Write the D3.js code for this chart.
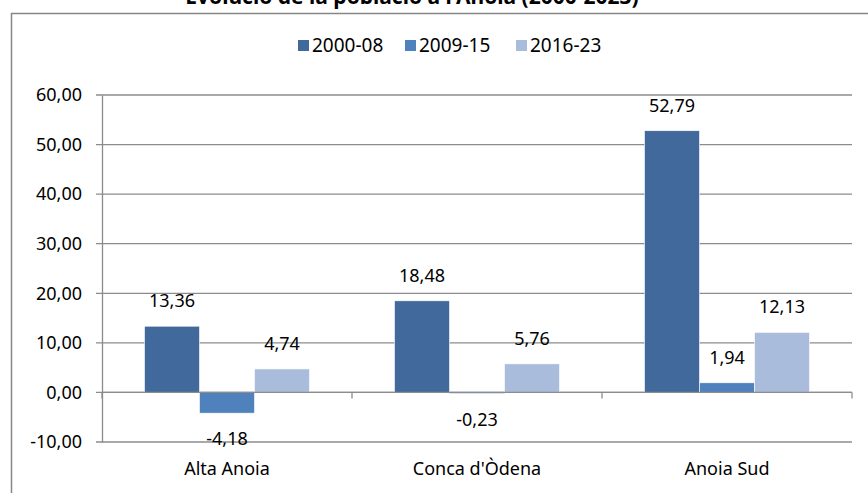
<!DOCTYPE html>
<html>
<head>
<meta charset="utf-8">
<script src="https://cdn.jsdelivr.net/npm/d3@7"></script>
<style>
  body { margin: 0; background: #fff; }
  svg { display: block; font-family: 'Noto Sans', sans-serif; }
</style>
</head>
<body>
<div id="chart"></div>
<script>
const categories = ['Alta Anoia', "Conca d'Òdena", 'Anoia Sud'];
const seriesNames = ['2000-08', '2009-15', '2016-23'];
const values2000_08 = [13.36, 18.48, 52.79];
const values2009_15 = [-4.18, -0.23, 1.94];
const values2016_23 = [4.74, 5.76, 12.13];
const yTicks = [-10, 0, 10, 20, 30, 40, 50, 60];
const colors = ['#41699b', '#4f81bd', '#aabcdb'];
const title = "Evolució de la població a l'Anoia (2000-2023)";

const seriesValues = [values2000_08, values2009_15, values2016_23];
const width = 868, height = 493;
const plot = { left: 102, right: 852, top: 95, bottom: 442 };

// comma decimals, plain hyphen for negatives
const fmt = v => d3.format('.2f')(v).replace('.', ',').replace('\u2212', '-');

const svg = d3.select('#chart').append('svg')
    .attr('width', width)
    .attr('height', height);

// chart frame (runs off the page to the right and bottom)
svg.append('rect')
    .attr('x', 11.5).attr('y', 13.5)
    .attr('width', 1000).attr('height', 600)
    .attr('fill', 'none')
    .attr('stroke', '#868686')
    .attr('stroke-width', 1.5);

// title, mostly cut off at the top as in the source image
svg.append('text')
    .attr('x', 412).attr('y', 4)
    .attr('text-anchor', 'middle')
    .style('font-size', '21px')
    .style('font-weight', 'bold')
    .attr('fill', '#000')
    .text(title);

const y = d3.scaleLinear()
    .domain([-10, 60])
    .range([plot.bottom, plot.top]);

const x0 = d3.scaleBand()
    .domain(categories)
    .range([plot.left, plot.right]);

const x1 = d3.scaleBand()
    .domain(seriesNames)
    .range([42.5, x0.bandwidth() - 42.5]);

// grid lines
svg.append('g')
    .selectAll('line')
    .data(yTicks)
    .join('line')
    .attr('x1', plot.left - 6).attr('x2', plot.right)
    .attr('y1', d => y(d)).attr('y2', d => y(d))
    .attr('stroke', '#8c8c8c')
    .attr('stroke-width', 1.3);

// y axis
const yAxis = d3.axisLeft(y)
    .tickValues(yTicks)
    .tickSize(0)
    .tickPadding(20)
    .tickFormat(fmt);

svg.append('g')
    .attr('transform', `translate(${plot.left},0)`)
    .call(yAxis)
    .call(g => g.select('.domain').attr('stroke', '#8c8c8c').attr('stroke-width', 1.3))
    .call(g => g.selectAll('text')
        .style('font-size', '18px')
        .style('font-family', "'Noto Sans', sans-serif")
        .attr('fill', '#000'));

// bars
const data = [];
categories.forEach((c, i) => {
    seriesNames.forEach((s, j) => {
        data.push({ cat: c, series: s, value: seriesValues[j][i], idx: j });
    });
});

svg.append('g')
    .selectAll('rect')
    .data(data)
    .join('rect')
    .attr('x', d => x0(d.cat) + x1(d.series))
    .attr('width', x1.bandwidth())
    .attr('y', d => y(Math.max(0, d.value)))
    .attr('height', d => Math.abs(y(d.value) - y(0)))
    .attr('fill', d => colors[d.idx])
    .attr('stroke', '#fff')
    .attr('stroke-width', 0.6);

// x axis line at zero with category ticks
svg.append('line')
    .attr('x1', plot.left).attr('x2', plot.right)
    .attr('y1', y(0)).attr('y2', y(0))
    .attr('stroke', '#8c8c8c')
    .attr('stroke-width', 1.3);

const divs = categories.map(c => x0(c)).concat([plot.right]);
svg.append('g')
    .selectAll('line')
    .data(divs)
    .join('line')
    .attr('x1', d => d).attr('x2', d => d)
    .attr('y1', y(0)).attr('y2', y(0) + 6)
    .attr('stroke', '#8c8c8c')
    .attr('stroke-width', 1.3);

// category labels
svg.append('g')
    .selectAll('text')
    .data(categories)
    .join('text')
    .attr('x', d => x0(d) + x0.bandwidth() / 2)
    .attr('y', 475)
    .attr('text-anchor', 'middle')
    .style('font-size', '18px')
    .attr('fill', '#000')
    .text(d => d);

// value labels
svg.append('g')
    .selectAll('text')
    .data(data)
    .join('text')
    .attr('x', d => x0(d.cat) + x1(d.series) + x1.bandwidth() / 2)
    .attr('y', d => d.value >= 0 ? y(d.value) - 19 : y(d.value) + 32)
    .attr('text-anchor', 'middle')
    .style('font-size', '18px')
    .attr('fill', '#000')
    .text(d => fmt(d.value));

// legend
const legendX = [298, 405, 516];
const legend = svg.append('g')
    .selectAll('g')
    .data(seriesNames)
    .join('g')
    .attr('transform', (d, i) => `translate(${legendX[i]},40)`);

legend.append('rect')
    .attr('width', 11).attr('height', 11)
    .attr('fill', (d, i) => colors[i]);

legend.append('text')
    .attr('x', 14).attr('y', 12)
    .style('font-size', '19px')
    .attr('fill', '#000')
    .text(d => d);
</script>
</body>
</html>
